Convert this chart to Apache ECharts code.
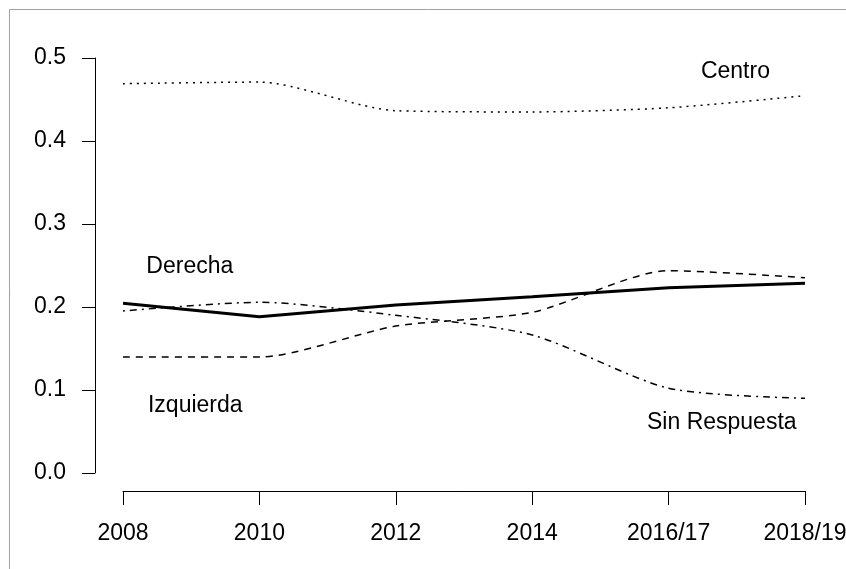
<!DOCTYPE html>
<html>
<head>
<meta charset="utf-8">
<script src="https://cdn.jsdelivr.net/npm/echarts@6/dist/echarts.min.js"></script>
<style>
  html, body { margin: 0; padding: 0; background: #fff; }
  #chart { width: 846px; height: 569px; }
</style>
</head>
<body>
<div id="chart"></div>
<script>
// categorías del eje x
const years = ['2008', '2010', '2012', '2014', '2016/17', '2018/19']
const yTicks = [0.0, 0.1, 0.2, 0.3, 0.4, 0.5]

// proporciones
const centro = [0.469, 0.471, 0.4365, 0.435, 0.440, 0.4546]
const derecha = [0.2045, 0.1883, 0.2024, 0.2124, 0.2233, 0.2286]
const izquierda = [0.1398, 0.1398, 0.177, 0.1936, 0.2437, 0.2353]
const sinRespuesta = [0.1952, 0.2057, 0.190, 0.1663, 0.1021, 0.090]

// posición de las etiquetas [índice x, valor y]
const labelPos = {
  Centro: [4.49, 0.483],
  Derecha: [0.49, 0.249],
  Izquierda: [0.53, 0.081],
  'Sin Respuesta': [4.39, 0.061],
}

const font = 'Liberation Sans, Arial, Helvetica, sans-serif'
const fontSize = 23

const toPoints = (arr) => arr.map((v, i) => [i, v])

const makeSeries = (name, values, lineStyle, smooth) => ({
  name,
  type: 'line',
  data: toPoints(values),
  symbol: 'none',
  smooth,
  lineStyle: Object.assign({ color: '#000' }, lineStyle),
  markPoint: {
    symbol: 'circle',
    symbolSize: 0,
    data: [{ coord: labelPos[name] }],
    label: {
      show: true,
      position: 'inside',
      formatter: name,
      color: '#000',
      fontSize,
      fontFamily: font,
    },
  },
})

const myChart = echarts.init(document.getElementById('chart'))
const option = {
  animation: false,
  backgroundColor: '#fff',
  graphic: [
    {
      type: 'rect',
      shape: { x: 9.5, y: 9.5, width: 900, height: 700 },
      style: { fill: 'none', stroke: '#a0a0a0', lineWidth: 1 },
      silent: true,
    },
  ],
  grid: { left: 123, right: 41, top: 58, bottom: 96, containLabel: false, outerBoundsMode: 'none' },
  xAxis: {
    type: 'value',
    min: 0,
    max: years.length - 1,
    interval: 1,
    offset: 18,
    splitLine: { show: false },
    axisLine: { show: true, onZero: false, lineStyle: { color: '#000', width: 1 } },
    axisTick: { show: true, length: 14, lineStyle: { color: '#000', width: 1 } },
    axisLabel: {
      formatter: (v) => years[v] || '',
      color: '#000',
      fontSize,
      fontFamily: font,
      margin: 31,
      showMinLabel: true,
      showMaxLabel: true,
    },
  },
  yAxis: {
    type: 'value',
    min: yTicks[0],
    max: yTicks[yTicks.length - 1],
    interval: 0.1,
    offset: 28,
    splitLine: { show: false },
    axisLine: { show: true, onZero: false, lineStyle: { color: '#000', width: 1 } },
    axisTick: { show: true, length: 13, lineStyle: { color: '#000', width: 1 } },
    axisLabel: {
      formatter: (v) => v.toFixed(1),
      color: '#000',
      fontSize,
      fontFamily: font,
      margin: 29,
    },
  },
  series: [
    makeSeries('Centro', centro, { width: 1.5, type: [2, 5] }, 0.25),
    makeSeries('Derecha', derecha, { width: 3, type: 'solid' }, false),
    makeSeries('Izquierda', izquierda, { width: 1.5, type: [7, 6] }, 0.25),
    makeSeries('Sin Respuesta', sinRespuesta, { width: 1.5, type: [2, 5, 7, 5] }, 0.25),
  ],
}
myChart.setOption(option)
</script>
</body>
</html>
